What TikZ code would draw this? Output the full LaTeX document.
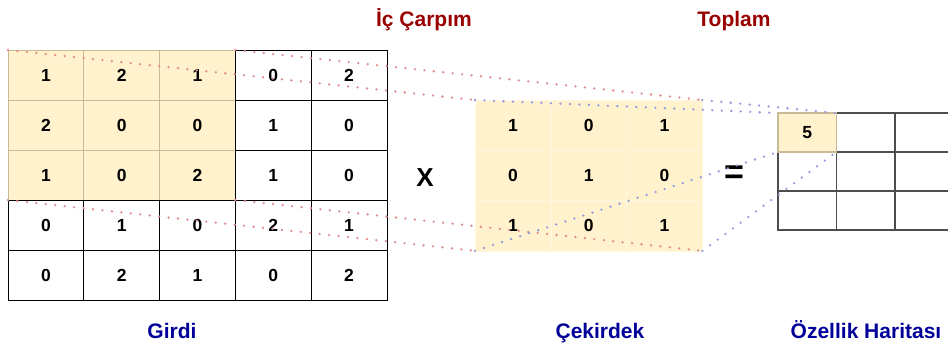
\documentclass[tikz,border=0pt]{standalone}
\usepackage{fontspec}
\setmainfont{Liberation Sans}
\usepackage{xcolor}
\usepackage{tikz}
\usetikzlibrary{positioning}

\definecolor{hifill}{HTML}{FFF2CC}
\definecolor{hiline}{HTML}{C9BB98}
\definecolor{fmline}{HTML}{4D4D4D}
\definecolor{titlered}{HTML}{990000}
\definecolor{capblue}{HTML}{000099}
\definecolor{dotred}{HTML}{E38C8C}
\definecolor{dotblue}{HTML}{939BE0}

\begin{document}
\begin{tikzpicture}[
    x=1pt, y=-1pt,
    every node/.style={inner sep=0pt, outer sep=0pt, font=\fontsize{17.5}{20}\selectfont\bfseries},
    cell/.style={draw=black, line width=1pt, minimum width=75.8pt, minimum height=50pt},
    hicell/.style={cell, draw=hiline, fill=hifill},
    kcell/.style={draw=hifill!60!white, line width=0.6pt, fill=hifill, minimum width=75.8pt, minimum height=50.3pt},
    fmcell/.style={draw=fmline, line width=1.4pt, minimum width=58.5pt, minimum height=39pt},
    title/.style={text=titlered, font=\fontsize{21}{25}\selectfont\bfseries, anchor=base},
    caption/.style={text=capblue, font=\fontsize{21}{25}\selectfont\bfseries, anchor=base},
    redlink/.style={draw=dotred, line width=2.6pt, line cap=round, dash pattern=on 0pt off 9.5pt},
    bluelink/.style={draw=dotblue, line width=2.6pt, line cap=round, dash pattern=on 0pt off 9.5pt}
]
\useasboundingbox (0,0) rectangle (948,351);
\clip (0,0) rectangle (948,351);

% input (Girdi)
\foreach \row [count=\r] in {{1,2,1,0,2},{2,0,0,1,0},{1,0,2,1,0},{0,1,0,2,1},{0,2,1,0,2}}
  \foreach \v [count=\c] in \row {
    \ifnum\r<4 \ifnum\c<4
      \node[hicell] (in-\r-\c) at ({8+75.8*(\c-0.5)},{50+50*(\r-0.5)}) {\v};
    \fi\fi
  };
\foreach \row [count=\r] in {{1,2,1,0,2},{2,0,0,1,0},{1,0,2,1,0},{0,1,0,2,1},{0,2,1,0,2}}
  \foreach \v [count=\c] in \row {
    \pgfmathparse{(\r<4 && \c<4) ? 0 : 1}
    \ifnum\pgfmathresult>0
      \node[cell] (in-\r-\c) at ({8+75.8*(\c-0.5)},{50+50*(\r-0.5)}) {\v};
    \fi
  };

% kernel (Cekirdek)
\foreach \row [count=\r] in {{1,0,1},{0,1,0},{1,0,1}}
  \foreach \v [count=\c] in \row
    \node[kcell] (k-\r-\c) at ({475+75.8*(\c-0.5)},{100+50.3*(\r-0.5)}) {\v};

% feature map (Ozellik Haritasi)
\foreach \r in {1,2,3}
  \foreach \c in {1,2,3}
    \node[fmcell] (fm-\r-\c) at ({778+58.5*(\c-0.5)},{113+39*(\r-0.5)}) {};
\node[fmcell, draw=hiline, fill=hifill] (fm-1-1) at ({778+58.5*0.5},{113+39*0.5}) {5};

% operators
\node[font=\fontsize{26}{30}\selectfont\bfseries] (times) at (425,177.5) {X};
\node[font=\fontsize{34}{38}\selectfont\bfseries] (equals) at (734,175) {=};

% titles
\node[title] (dot) at (424,26) {İç Çarpım};
\node[title] (sum) at (734,26) {Toplam};
\node[caption] (girdi) at (172,338) {Girdi};
\node[caption] (cekirdek) at (600,338) {Çekirdek};
\node[caption] (harita) at (866,338) {Özellik Haritası};

% dotted links
\draw[redlink] (in-1-1.north west) -- (k-1-1.north west);
\draw[redlink] (in-1-3.north east) -- (k-1-3.north east);
\draw[redlink] (in-3-1.south west) -- (k-3-1.south west);
\draw[redlink] (in-3-3.south east) -- (k-3-3.south east);
\draw[bluelink] (k-1-1.north west) -- (fm-1-1.north west);
\draw[bluelink] (k-1-3.north east) -- (fm-1-1.north east);
\draw[bluelink] (k-3-1.south west) -- (fm-1-1.south west);
\draw[bluelink] (k-3-3.south east) -- (fm-1-1.south east);
\end{tikzpicture}
\end{document}
